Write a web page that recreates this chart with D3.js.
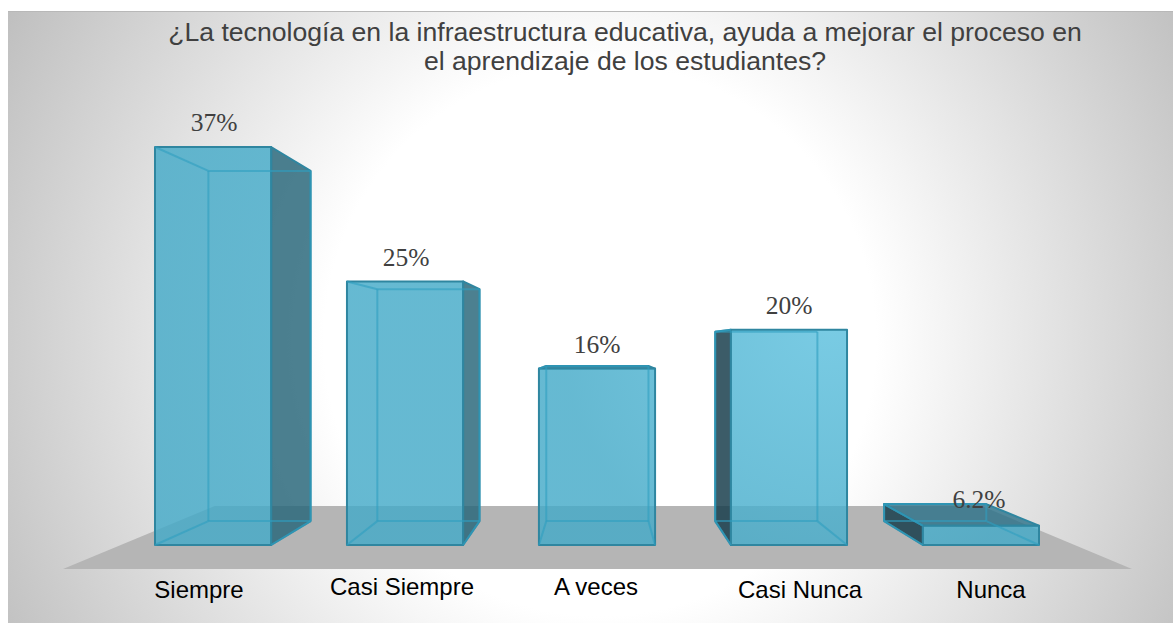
<!DOCTYPE html>
<html lang="es">
  <head>
    <meta charset="UTF-8" />
    <title>Tecnología en la infraestructura educativa</title>
    <script src="https://d3js.org/d3.v7.min.js"></script>
    <style>
      html, body { margin: 0; padding: 0; background: #fff; }
      svg { display: block; }
    </style>
  </head>
  <body>
    <div id="chart"></div>
    <script>
      const categories = ["Siempre", "Casi Siempre", "A veces", "Casi Nunca", "Nunca"];
      // bar heights as drawn in the picture (the last one is much shorter than its label says)
      const barValues = [37, 24.5, 16.4, 20, 1.8];
      const valueLabels = ["37%", "25%", "16%", "20%", "6.2%"];
      const titleLines = [
        "¿La tecnología en la infraestructura educativa, ayuda a mejorar el proceso en",
        "el aprendizaje de los estudiantes?"
      ];

      const width = 1173, height = 623;
      const vanish = { x: 600, y: 346 }; // perspective point of the 3D bars
      const depth = 0.88; // back face scale

      const svg = d3.select("#chart").append("svg").attr("width", width).attr("height", height);

      const defs = svg.append("defs");
      const bg = defs.append("radialGradient").attr("id", "bg")
        .attr("gradientUnits", "userSpaceOnUse")
        .attr("cx", 600).attr("cy", 340).attr("r", 690);
      bg.append("stop").attr("offset", "0%").attr("stop-color", "#fff");
      bg.append("stop").attr("offset", "40%").attr("stop-color", "#fff");
      bg.append("stop").attr("offset", "100%").attr("stop-color", "#bdbdbd");

      // the front faces catch a little light around the fourth bar
      const glow = defs.append("radialGradient").attr("id", "glow")
        .attr("gradientUnits", "userSpaceOnUse")
        .attr("cx", 830).attr("cy", 320).attr("r", 270);
      glow.append("stop").attr("offset", "0%").attr("stop-color", "#5cc0de");
      glow.append("stop").attr("offset", "100%").attr("stop-color", "#44aac8");

      svg.append("rect").attr("x", 8).attr("y", 11).attr("width", width - 8).attr("height", height - 11).attr("fill", "url(#bg)");
      svg.append("line").attr("x1", 8).attr("x2", width).attr("y1", 11.5).attr("y2", 11.5).attr("stroke", "#b8b8b8");

      const x = d3.scaleBand().domain(categories).range([155, 1039]).paddingInner(0.395).paddingOuter(0);
      const y = d3.scaleLinear().domain([0, 37]).range([545, 147]);

      const back = (p) => [vanish.x + depth * (p[0] - vanish.x), vanish.y + depth * (p[1] - vanish.y)];
      const path = d3.line();

      // floor
      const floorFront = [[63, 569], [1132, 569]];
      const floorT = (506 - vanish.y) / (569 - vanish.y);
      const floorBack = floorFront.map((p) => [vanish.x + floorT * (p[0] - vanish.x), vanish.y + floorT * (p[1] - vanish.y)]);
      svg.append("path")
        .attr("d", path([floorFront[0], floorFront[1], floorBack[1], floorBack[0]]) + "Z")
        .attr("fill", "#b5b5b5");

      const EDGE = "#2f86a0";
      const INNER = "#2f9fc0";
      const WALL_RIGHT = "#2a687b";
      const WALL_LEFT = "#173d4b";
      const TOP_DARK = "#2a7088";

      categories.forEach((c, i) => {
        const x0 = x(c), x1 = x0 + x.bandwidth();
        const y0 = y(barValues[i]), y1 = y(0);
        const fTL = [x0, y0], fTR = [x1, y0], fBL = [x0, y1], fBR = [x1, y1];
        const bTL = back(fTL), bTR = back(fTR), bBL = back(fBL), bBR = back(fBR);
        const g = svg.append("g").attr("class", "bar");

        const face = (pts, fill, op) =>
          g.append("path").attr("d", path(pts) + "Z").attr("fill", fill).attr("fill-opacity", op)
            .attr("stroke", EDGE).attr("stroke-width", 2).attr("stroke-linejoin", "round");
        const edge = (a, b) =>
          g.append("path").attr("d", path([a, b])).attr("fill", "none")
            .attr("stroke", INNER).attr("stroke-opacity", 0.6).attr("stroke-width", 2);

        // the wall away from the vanishing point, then the top if it sits under the eye line
        if (bTR[0] > x1) face([fTR, bTR, bBR, fBR], WALL_RIGHT, 0.84);
        if (bTL[0] < x0) face([fTL, bTL, bBL, fBL], WALL_LEFT, 0.84);
        if (y0 > vanish.y) face([fTL, fTR, bTR, bTL], TOP_DARK, 0.8);
        face([fTL, fTR, fBR, fBL], "url(#glow)", 0.82);

        edge(fTL, bTL);
        edge(fBL, bBL);
        edge(fBR, bBR);
        edge(bTL, bBL);
        edge(bTR, bBR);
        edge(bTL, bTR);
        edge(bBL, bBR);
      });

      // value labels sit a little off centre in the source
      const labelX = [214, 406, 597, 789, 979];
      const labelY = [131, 266, 353, 314, 507.5];
      svg.selectAll(".value").data(valueLabels).enter().append("text")
        .attr("class", "value")
        .attr("x", (d, i) => labelX[i])
        .attr("y", (d, i) => labelY[i])
        .attr("text-anchor", "middle")
        .attr("fill", "#404040")
        .style("font-family", "'Liberation Serif', serif")
        .style("font-size", "25.5px")
        .text((d) => d);

      // category labels, placed by hand like the source slide
      const catX = [199, 402, 596, 800, 991];
      const catY = [598, 595, 595, 598, 598];
      svg.selectAll(".cat").data(categories).enter().append("text")
        .attr("class", "cat")
        .attr("x", (d, i) => catX[i])
        .attr("y", (d, i) => catY[i])
        .attr("text-anchor", "middle")
        .attr("fill", "#000")
        .style("font-family", "'Liberation Sans', Arial, sans-serif")
        .style("font-size", "24px")
        .text((d) => d);

      svg.selectAll(".title").data(titleLines).enter().append("text")
        .attr("class", "title")
        .attr("x", 625)
        .attr("y", (d, i) => 41 + i * 29)
        .attr("text-anchor", "middle")
        .attr("fill", "#404040")
        .style("font-family", "'Liberation Sans', Arial, sans-serif")
        .style("font-size", "26.6px")
        .text((d) => d);
    </script>
  </body>
</html>
